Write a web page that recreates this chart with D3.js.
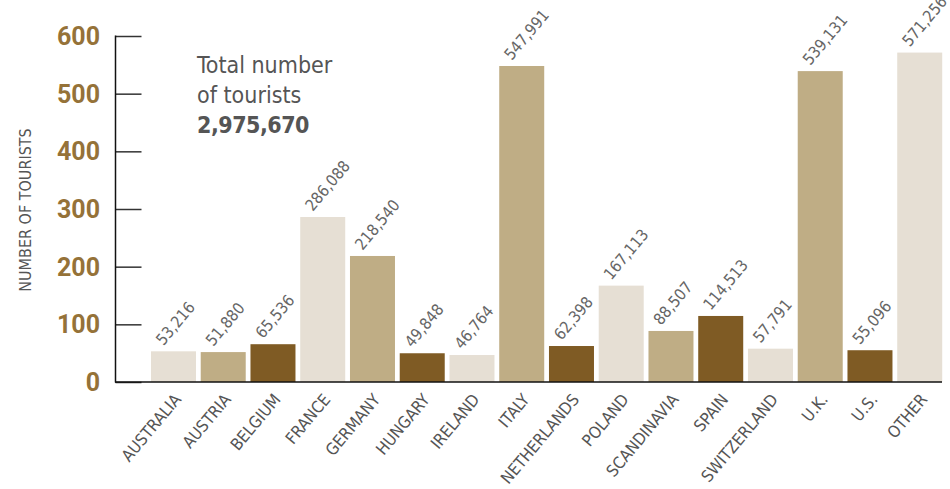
<!DOCTYPE html>
<html>
<head>
<meta charset="utf-8">
<script src="https://cdn.jsdelivr.net/npm/d3@7"></script>
<style>
  html, body { margin: 0; padding: 0; background: #fff; }
  svg { display: block; }
</style>
</head>
<body>
<svg id="chart" width="950" height="489"></svg>
<script>
const categories = ["AUSTRALIA","AUSTRIA","BELGIUM","FRANCE","GERMANY","HUNGARY","IRELAND","ITALY","NETHERLANDS","POLAND","SCANDINAVIA","SPAIN","SWITZERLAND","U.K.","U.S.","OTHER"];
const tourists = [53216,51880,65536,286088,218540,49848,46764,547991,62398,167113,88507,114513,57791,539131,55096,571256];
const yTicks = [0,100,200,300,400,500,600];
const totalLabel = "2,975,670";
const colorCycle = ["#E6DFD4","#BFAD85","#7F5B24"];

const FONT = "'DejaVu Sans Condensed','Liberation Sans',sans-serif";
const svg = d3.select("#chart");

const x = d3.scaleBand().domain(categories).range([148.6, 944.6]).paddingInner(0.0955).paddingOuter(0.0478);
const y = d3.scaleLinear().domain([0, 600]).range([382, 36]);

// bars
svg.append("g").selectAll("rect").data(categories).join("rect")
  .attr("x", d => x(d))
  .attr("y", (d,i) => y(tourists[i] / 1000))
  .attr("width", x.bandwidth())
  .attr("height", (d,i) => y(0) - y(tourists[i] / 1000))
  .attr("fill", (d,i) => colorCycle[i % 3]);

// y axis
const yAxis = d3.axisRight(y).tickValues(yTicks).tickSize(26).tickFormat("");
const gy = svg.append("g").attr("transform", "translate(115.5,0)").call(yAxis);
gy.select(".domain").remove();
gy.selectAll(".tick line").attr("stroke", "#333").attr("stroke-width", 1.5);
svg.append("line").attr("x1",115.5).attr("x2",115.5).attr("y1",y(600)-0.5).attr("y2",y(0)+0.5)
  .attr("stroke","#111").attr("stroke-width",1.5);

svg.append("g").selectAll("text").data(yTicks).join("text")
  .attr("x", 100).attr("y", d => y(d)).attr("dy", "0.36em")
  .attr("text-anchor", "end")
  .attr("font-family", "Roboto, sans-serif").attr("font-weight", "bold").attr("font-size", 25)
  .attr("fill", "#957238")
  .text(d => d);

// x baseline
svg.append("line").attr("x1",115).attr("x2",942).attr("y1",y(0)).attr("y2",y(0))
  .attr("stroke","#111").attr("stroke-width",1.5);

// y title
svg.append("text")
  .attr("transform", "translate(31,210) rotate(-90)")
  .attr("text-anchor", "middle")
  .attr("font-family", FONT).attr("font-size", 16).attr("fill", "#555")
  .text("NUMBER OF TOURISTS");

// value labels
svg.append("g").selectAll("text").data(categories).join("text")
  .attr("transform", (d,i) => `translate(${x(d) + x.bandwidth()/2 - 10},${y(tourists[i]/1000) - 5}) rotate(-50)`)
  .attr("font-family", FONT).attr("font-size", 16).attr("fill", "#666")
  .text((d,i) => d3.format(",")(tourists[i]));

// x labels
svg.append("g").selectAll("text").data(categories).join("text")
  .attr("transform", d => `translate(${x(d) + x.bandwidth()/2 - 1},${392}) rotate(-50)`)
  .attr("text-anchor", "end").attr("dy", "0.75em")
  .attr("font-family", FONT).attr("font-size", 16.5).attr("fill", "#555")
  .text(d => d);

// total annotation
const ann = svg.append("g").attr("font-family", FONT).attr("fill", "#555");
ann.append("text").attr("x",197).attr("y",73).attr("font-size",23).text("Total number");
ann.append("text").attr("x",197).attr("y",103).attr("font-size",23).text("of tourists");
ann.append("text").attr("x",197).attr("y",133).attr("font-size",23).attr("font-weight","bold").attr("letter-spacing",-0.5).text(totalLabel);
</script>
</body>
</html>
